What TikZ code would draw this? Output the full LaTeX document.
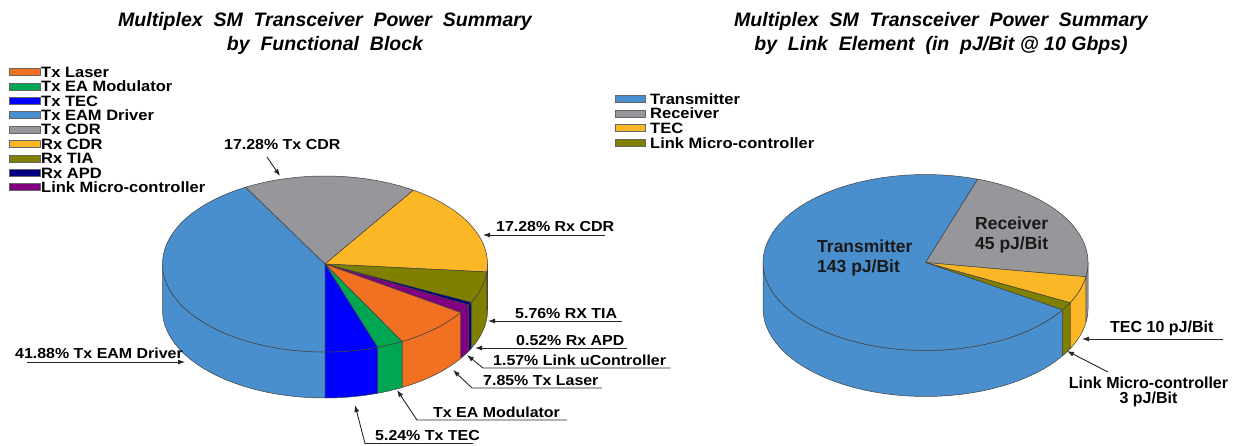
\documentclass[tikz,border=0pt]{standalone}
\usepackage{fontspec}
\setmainfont{Liberation Sans}
\newfontfamily\labf[FakeStretch=1.1]{Liberation Sans}
\usetikzlibrary{arrows.meta}
\definecolor{cLaser}{RGB}{241,112,34}
\definecolor{cEAM}{RGB}{0,166,81}
\definecolor{cTEC}{RGB}{0,0,255}
\definecolor{cDrv}{RGB}{74,143,205}
\definecolor{cGray}{RGB}{150,150,155}
\definecolor{cYel}{RGB}{252,183,38}
\definecolor{cOli}{RGB}{128,128,0}
\definecolor{cNavy}{RGB}{0,0,128}
\definecolor{cPur}{RGB}{128,0,128}
\newcommand\pieRX{162.5}
\newcommand\pieRY{88}
\newcommand\pieDP{46}
% top face of a slice: centre x, centre y, low angle, high angle, colour
\newcommand\pietop[5]{\filldraw[pieline,fill=#5] (#1,#2) -- plot[domain=#3:#4,samples=60] ({#1+\pieRX*cos(\x)},{#2-\pieRY*sin(\x)}) -- cycle;}
% front wall of a slice
\newcommand\pieside[5]{\filldraw[pieline,fill=#5] plot[domain=#3:#4,samples=40] ({#1+\pieRX*cos(\x)},{#2-\pieRY*sin(\x)}) -- plot[domain=#3:#4,samples=40] ({#1+\pieRX*cos((#3)+(#4)-\x)},{#2+\pieDP-\pieRY*sin((#3)+(#4)-\x)}) -- cycle;}
\tikzset{
  pieline/.style={draw=black!75,line width=0.5pt,line join=round},
  titletext/.style={font=\fontsize{19.5}{22}\selectfont\bfseries\itshape,inner sep=0pt},
  legtext/.style={font=\labf\fontsize{15}{15}\selectfont\bfseries,inner sep=0pt,anchor=base west},
  labtext/.style={font=\labf\fontsize{14.5}{15}\selectfont\bfseries,inner sep=0pt,anchor=base west},
  rlabtext/.style={font=\fontsize{16}{17}\selectfont\bfseries,inner sep=0pt},
  pietext/.style={font=\fontsize{17.5}{18}\selectfont\bfseries,inner sep=0pt,anchor=base west,text=black!90},
  swatch/.style={draw=black!60,line width=0.5pt},
  labarrow/.style={draw=black!85,line width=0.9pt,-{Latex[length=7pt,width=5pt]}},
}
\begin{document}
\begin{tikzpicture}[x=1pt,y=-1pt]
\useasboundingbox (0,0) rectangle (1241,446);
\fill[white] (0,0) rectangle (1241,446);

% ---------- titles ----------
\node[titletext,anchor=base] (tL1) at (325,26.7) {Multiplex\ \ SM\ \ Transceiver\ \ Power\ \ Summary};
\node[titletext,anchor=base] (tL2) at (325,50.5) {by\ \ Functional\ \ Block};
\node[titletext,anchor=base] (tR1) at (941,26.7) {Multiplex\ \ SM\ \ Transceiver\ \ Power\ \ Summary};
\node[titletext,anchor=base] (tR2) at (941,50.5) {by\ \ Link\ \ Element\ \ (in\ \ pJ/Bit @ 10 Gbps)};

% ---------- left legend ----------
\foreach \c/\t [count=\i from 0] in {cLaser/Tx Laser,cEAM/Tx EA Modulator,cTEC/Tx TEC,cDrv/Tx EAM Driver,cGray/Tx CDR,cYel/Rx CDR,cOli/Rx TIA,cNavy/Rx APD,cPur/Link Micro-controller}{
  \filldraw[swatch,fill=\c] (9,{72+14.4*\i-3.5}) rectangle (40,{72+14.4*\i+3.5});
  \node[legtext] (lgL\i) at (41,{72+14.4*\i+5.3}) {\t};
}

% ---------- right legend ----------
\foreach \c/\t [count=\i from 0] in {cDrv/Transmitter,cGray/Receiver,cYel/TEC,cOli/Link Micro-controller}{
  \filldraw[swatch,fill=\c] (615,{99+14.6*\i-3.5}) rectangle (645,{99+14.6*\i+3.5});
  \node[legtext] (lgR\i) at (650,{99+14.6*\i+5.3}) {\t};
}

% ---------- left pie ----------
\pieside{325}{264}{-180}{-90}{cDrv}
\pieside{325}{264}{-5.19}{0}{cYel}
\pieside{325}{264}{-25.93}{-5.19}{cOli}
\pieside{325}{264}{-27.80}{-25.93}{cNavy}
\pieside{325}{264}{-33.45}{-27.80}{cPur}
\pieside{325}{264}{-61.71}{-33.45}{cLaser}
\pieside{325}{264}{-71.14}{-61.71}{cEAM}
\pieside{325}{264}{-90}{-71.14}{cTEC}
\pietop{325}{264}{-240.77}{-90}{cDrv}
\pietop{325}{264}{57.02}{119.23}{cGray}
\pietop{325}{264}{-5.19}{57.02}{cYel}
\pietop{325}{264}{-25.93}{-5.19}{cOli}
\pietop{325}{264}{-27.80}{-25.93}{cNavy}
\pietop{325}{264}{-33.45}{-27.80}{cPur}
\pietop{325}{264}{-61.71}{-33.45}{cLaser}
\pietop{325}{264}{-71.14}{-61.71}{cEAM}
\pietop{325}{264}{-90}{-71.14}{cTEC}

% ---------- left pie labels ----------
\node[labtext] (lTxCDR) at (224,150) {17.28\% Tx CDR};
\coordinate (aTxCDRs) at (267,157); \coordinate (aTxCDRt) at (280,176);
\draw[labarrow] (aTxCDRs) -- (aTxCDRt);

\node[labtext] (lRxCDR) at (496,232) {17.28\% Rx CDR};
\coordinate (aRxCDRs) at (605,235); \coordinate (aRxCDRt) at (483,235);
\draw[labarrow] (aRxCDRs) -- (aRxCDRt);

\node[labtext] (lTIA) at (515,318) {5.76\% RX TIA};
\coordinate (aTIAs) at (622,321); \coordinate (aTIAt) at (488,321);
\draw[labarrow] (aTIAs) -- (aTIAt);

\node[labtext] (lAPD) at (516,345) {0.52\% Rx APD};
\coordinate (aAPDs) at (627,348); \coordinate (aAPDt) at (475,348);
\draw[labarrow] (aAPDs) -- (aAPDt);

\node[labtext] (lLink) at (493,365) {1.57\% Link uController};
\coordinate (aLinks) at (670,368); \coordinate (aLinkk) at (483,368); \coordinate (aLinkt) at (467,355);
\draw[labarrow] (aLinks) -- (aLinkk) -- (aLinkt);

\node[labtext] (lLaser) at (483,385) {7.85\% Tx Laser};
\coordinate (aLasers) at (602,388); \coordinate (aLaserk) at (472,388); \coordinate (aLasert) at (453,370);
\draw[labarrow] (aLasers) -- (aLaserk) -- (aLasert);

\node[labtext] (lEAM) at (433,417) {Tx EA Modulator};
\coordinate (aEAMs) at (567,420); \coordinate (aEAMk) at (417,420); \coordinate (aEAMt) at (397,390);
\draw[labarrow] (aEAMs) -- (aEAMk) -- (aEAMt);

\node[labtext] (lTEC) at (375,440.5) {5.24\% Tx TEC};
\coordinate (aTECs) at (473,443.5); \coordinate (aTECk) at (365,443.5); \coordinate (aTECt) at (355,405);
\draw[labarrow] (aTECs) -- (aTECk) -- (aTECt);

\node[labtext] (lDrv) at (15,358) {41.88\% Tx EAM Driver};
\coordinate (aDrvs) at (27,362); \coordinate (aDrvt) at (185,362);
\draw[labarrow] (aDrvs) -- (aDrvt);

% ---------- right pie ----------
\pieside{925.5}{262.5}{-9.3}{0}{cGray}
\pieside{925.5}{262.5}{-27.21}{-9.3}{cYel}
\pieside{925.5}{262.5}{-32.58}{-27.21}{cOli}
\pieside{925.5}{262.5}{-180}{-32.58}{cDrv}
\pietop{925.5}{262.5}{-9.3}{71.3}{cGray}
\pietop{925.5}{262.5}{-27.21}{-9.3}{cYel}
\pietop{925.5}{262.5}{-32.58}{-27.21}{cOli}
\pietop{925.5}{262.5}{-288.7}{-32.58}{cDrv}

\node[pietext] (pTra1) at (817,252.7) {Transmitter};
\node[pietext] (pTra2) at (817,272.7) {143 pJ/Bit};
\node[pietext] (pRec1) at (975,229.3) {Receiver};
\node[pietext] (pRec2) at (975,250) {45 pJ/Bit};

% ---------- right pie labels ----------
\node[rlabtext,anchor=base west] (rTEC) at (1110,332.6) {TEC 10 pJ/Bit};
\coordinate (bTECs) at (1223,339); \coordinate (bTECt) at (1082,339);
\draw[labarrow] (bTECs) -- (bTECt);

\node[rlabtext,anchor=base] (rLink1) at (1148.5,388.7) {Link Micro-controller};
\node[rlabtext,anchor=base] (rLink2) at (1148.5,403.3) {3 pJ/Bit};
\coordinate (bLinks) at (1108,372); \coordinate (bLinkt) at (1067,351);
\draw[labarrow] (bLinks) -- (bLinkt);
\end{tikzpicture}
\end{document}
